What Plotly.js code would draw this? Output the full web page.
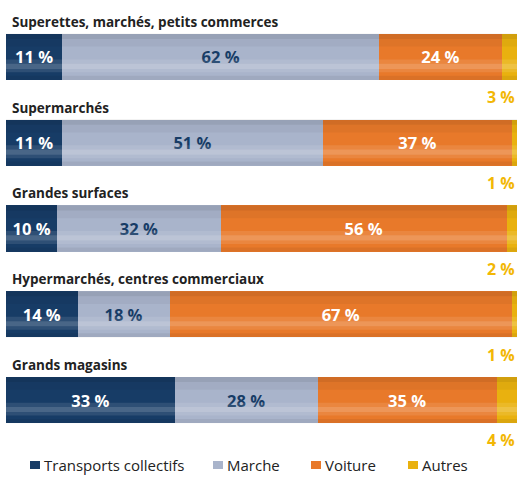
<!DOCTYPE html>
<html>
<head>
<meta charset="utf-8">
<script src="https://cdn.plot.ly/plotly-3.0.1.min.js"></script>
<style>html,body{margin:0;padding:0;background:#fff}#chart{width:518px;height:477px}</style>
</head>
<body>
<div id="chart"></div>
<script>
const categories = ["Superettes, marchés, petits commerces","Supermarchés","Grandes surfaces","Hypermarchés, centres commerciaux","Grands magasins"];
const transports = [11, 11, 10, 14, 33];
const marche = [62, 51, 32, 18, 28];
const voiture = [24, 37, 56, 67, 35];
const autres = [3, 1, 2, 1, 4];
const seriesNames = ["Transports collectifs","Marche","Voiture","Autres"];
const colors = ["#173c66","#a9b4cb","#e8792a","#e9b10f"];
const textColors = ["#ffffff","#173c66","#ffffff","#ffffff"];

const ypos = categories.map((c,i)=>i);
const FONT = "Open Sans, Noto Sans, sans-serif";
const allSeries = [transports, marche, voiture, autres];

const traces = allSeries.map((vals, k) => ({
  type: "bar",
  orientation: "h",
  name: seriesNames[k],
  x: vals,
  y: ypos,
  width: 0.54,
  marker: {color: colors[k], line: {width: 0}},
  text: k < 3 ? vals.map(v => v + " %") : vals.map(()=>""),
  textposition: k < 3 ? "inside" : "none",
  insidetextanchor: "middle",
  constraintext: "none",
  textfont: {family: FONT, size: 16.5, color: textColors[k], weight: 700},
  hoverinfo: "none",
  showlegend: false
}));

const annotations = [];
categories.forEach((c,i) => {
  annotations.push({
    xref: "x", yref: "y", x: 0, y: i - 0.41, xanchor: "left", yanchor: "middle",
    xshift: 4, text: "<b>" + c + "</b>", showarrow: false,
    font: {family: FONT, size: 13.5, color: "#222222"}
  });
  annotations.push({
    xref: "x", yref: "y", x: 100, y: i + 0.47, xanchor: "right", yanchor: "middle",
    text: "<b>" + autres[i] + " %</b>", showarrow: false,
    font: {family: FONT, size: 16, color: "#f2b705"}
  });
});

// cylinder shading overlays
const bands = [
  [-0.27, -0.21, "rgba(0,0,0,0.10)"],
  [-0.21, -0.12, "rgba(0,0,0,0.04)"],
  [0.03, 0.08, "rgba(255,255,255,0.10)"],
  [0.08, 0.14, "rgba(255,255,255,0.22)"],
  [0.14, 0.18, "rgba(255,255,255,0.10)"],
  [0.22, 0.27, "rgba(0,0,0,0.06)"]
];
const shapes = [];
ypos.forEach(i => {
  bands.forEach(b => shapes.push({type:"rect", xref:"x", yref:"y", x0:0, x1:100, y0:i+b[0], y1:i+b[1], fillcolor:b[2], line:{width:0}, layer:"above"}));
});

// manual legend (paper coords)
const legendX = [30, 213, 311, 408];
const legendY = 465;
const W = 518, H = 477, ml = 6, mr = 1, mt = 14, mb = 34;
const px2x = p => (p - ml) / (W - ml - mr);
const px2y = p => (H - mb - p) / (H - mt - mb);
seriesNames.forEach((n,k) => {
  shapes.push({type:"rect", xref:"paper", yref:"paper",
    x0: px2x(legendX[k]), x1: px2x(legendX[k] + 10),
    y0: px2y(legendY + 4), y1: px2y(legendY - 4),
    fillcolor: colors[k], line: {width: 0}});
  annotations.push({xref:"paper", yref:"paper", x: px2x(legendX[k] + 13), y: px2y(legendY),
    xanchor:"left", yanchor:"middle", text: n, showarrow:false, borderpad: 0,
    font:{family: FONT, size: 15, color:"#222222"}});
});

const layout = {
  width: W, height: H,
  margin: {l: ml, r: mr, t: mt, b: mb},
  paper_bgcolor: "#ffffff", plot_bgcolor: "#ffffff",
  barmode: "stack",
  showlegend: false,
  xaxis: {range: [0, 100], visible: false, fixedrange: true},
  yaxis: {range: [4.5, -0.5], visible: false, fixedrange: true},
  annotations: annotations,
  shapes: shapes,
  font: {family: FONT}
};

Plotly.newPlot("chart", traces, layout, {displayModeBar: false, staticPlot: true});
</script>
</body>
</html>
